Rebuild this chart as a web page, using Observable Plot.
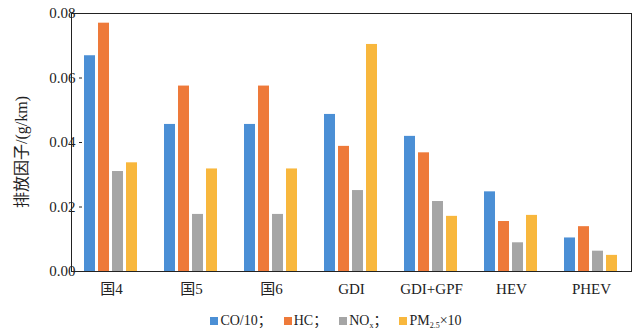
<!DOCTYPE html>
<html>
<head>
<meta charset="utf-8">
<script src="https://cdn.jsdelivr.net/npm/d3@7"></script>
<script src="https://cdn.jsdelivr.net/npm/@observablehq/plot@0.6"></script>
<style>
  body { margin: 0; background: #fff; font-family: "Liberation Serif", "Noto Sans CJK SC", serif; }
  #wrap { position: relative; width: 640px; height: 332px; }
  #chart svg { display: block; }
  #ylab { position: absolute; left: 20px; top: 152px; transform: translate(-50%, -50%) rotate(-90deg); white-space: nowrap; font-size: 16px; color: #222; }
  #legend { position: absolute; left: 0; top: 309px; width: 640px; box-sizing: border-box; padding-left: 32px; text-align: center; font-size: 14px; color: #222; }
  .item { display: inline-block; margin: 0 6px; }
  .sw { display: inline-block; width: 8px; height: 8px; margin-right: 2px; vertical-align: 0px; }
  sub { font-size: 8px; vertical-align: -3px; }
  .edge { position: absolute; background: #222; pointer-events: none; }
</style>
</head>
<body>
<div id="wrap">
  <div id="chart"></div>
  <div id="ylab">排放因子/(g/km)</div>
  <div id="legend"></div>
</div>
<script>
const categories = ["国4", "国5", "国6", "GDI", "GDI+GPF", "HEV", "PHEV"];
const seriesKeys = ["CO/10", "HC", "NOx", "PM2.5×10"];
const seriesLabels = ["CO/10；", "HC；", "NO<sub>x</sub>；", "PM<sub>2.5</sub>×10"];
const colors = ["#4B8FD5", "#EE7A3A", "#A5A5A5", "#F8B73D"];
const coValues = [0.0669, 0.0456, 0.0456, 0.0487, 0.0419, 0.0247, 0.0104];
const hcValues = [0.0770, 0.0575, 0.0575, 0.0388, 0.0368, 0.0155, 0.0139];
const noxValues = [0.0310, 0.0177, 0.0177, 0.0251, 0.0217, 0.0089, 0.0063];
const pmValues = [0.0337, 0.0318, 0.0318, 0.0704, 0.0171, 0.0174, 0.0050];
const yTicks = [0, 0.02, 0.04, 0.06, 0.08];

const allValues = [coValues, hcValues, noxValues, pmValues];
const data = [];
categories.forEach((c, i) => {
  seriesKeys.forEach((s, j) => data.push({category: c, series: s, value: allValues[j][i]}));
});

const chart = Plot.plot({
  width: 640,
  height: 300,
  marginLeft: 71,
  marginRight: 9,
  marginTop: 13,
  marginBottom: 29,
  style: {fontFamily: '"Liberation Serif", "Noto Sans CJK SC", serif', fontSize: "15px", color: "#222", background: "#fff"},
  fx: {domain: categories, paddingInner: 0.28, paddingOuter: 0.14, label: null, tickSize: 0, tickPadding: 12, axis: "bottom"},
  x: {domain: seriesKeys, paddingInner: 0.21, paddingOuter: 0.08, axis: null},
  y: {domain: [0, 0.08], ticks: yTicks, tickFormat: d3.format(".2f"), tickSize: 3, tickPadding: 4, label: null},
  color: {domain: seriesKeys, range: colors},
  marks: [
    Plot.barY(data, {fx: "category", x: "series", y: "value", fill: "series"})
  ]
});
document.getElementById("chart").appendChild(chart);

// Frame around the plot area, placed from the library's own scale ranges
const fxRange = chart.scale("fx").range;
const yRange = chart.scale("y").range;
const fx0 = Math.min(...fxRange), fx1 = Math.max(...fxRange);
const fy0 = Math.min(...yRange), fy1 = Math.max(...yRange);
const wrap = document.getElementById("wrap");
[[fx0, fy0, fx1 - fx0 + 1, 1], [fx0, fy1, fx1 - fx0 + 1, 1], [fx0, fy0, 1, fy1 - fy0 + 1], [fx1, fy0, 1, fy1 - fy0 + 1]]
  .forEach(([l, t, w, h]) => {
    const e = document.createElement("div");
    e.className = "edge";
    e.style.left = l + "px"; e.style.top = t + "px";
    e.style.width = w + "px"; e.style.height = h + "px";
    wrap.appendChild(e);
  });

const legend = document.getElementById("legend");
seriesKeys.forEach((s, j) => {
  const it = document.createElement("span");
  it.className = "item";
  it.innerHTML = `<span class="sw" style="background:${colors[j]}"></span>${seriesLabels[j]}`;
  legend.appendChild(it);
});
</script>
</body>
</html>
